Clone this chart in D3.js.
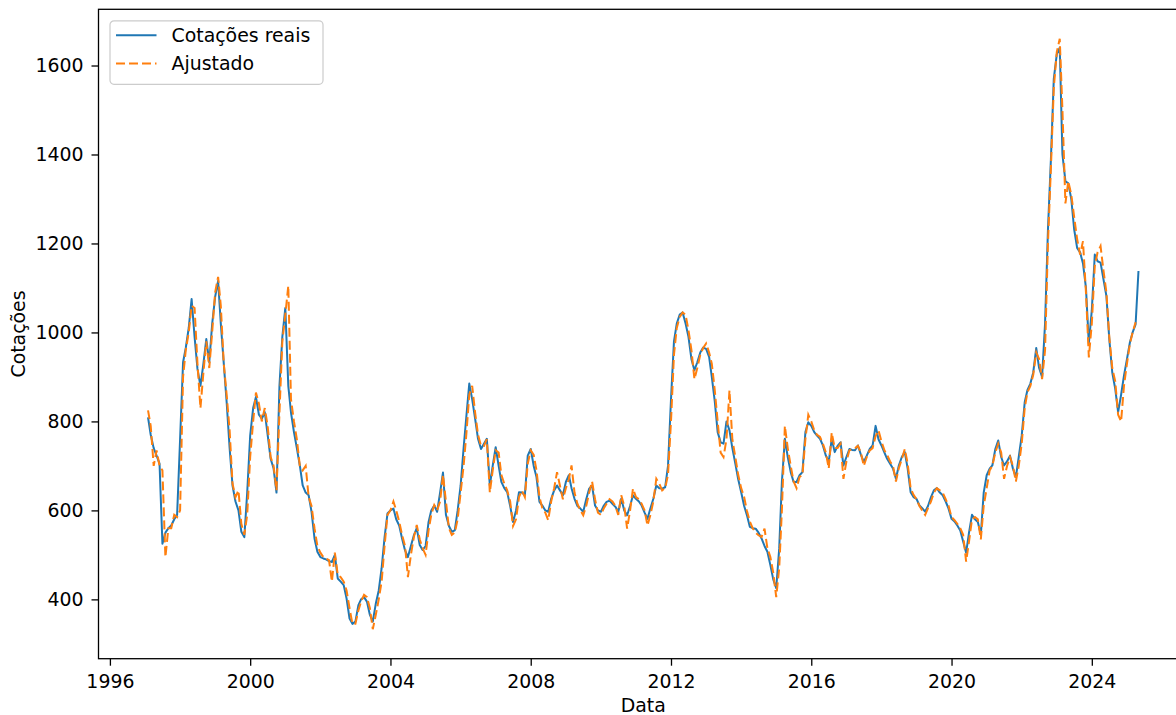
<!DOCTYPE html>
<html>
<head>
<meta charset="utf-8">
<script src="https://cdn.jsdelivr.net/npm/d3@7/dist/d3.min.js"></script>
<style>
  body { margin: 0; background: #fff; }
  svg { display: block; font-family: "DejaVu Sans", sans-serif; }
</style>
</head>
<body>
<svg id="chart" width="1176" height="715"></svg>
<script>
// monthly series, first month below, one value per month
var firstMonth = "1997-02";

var cotacoesReais = [
  809, 770, 740, 723, 705, 525, 550, 560, 566, 580, 590,
  760, 933, 965, 1010, 1075, 990, 918, 880, 930, 985, 933, 1019,
  1080, 1116, 1020, 930, 843, 740, 656, 620, 600, 552, 540, 640,
  768, 830, 855, 815, 806, 821, 770, 716, 694, 640, 880, 990,
  1055, 880, 820, 776, 740, 701, 656, 640, 634, 597, 537, 507,
  495, 492, 490, 486, 484, 500, 447, 440, 432, 402, 357, 345,
  350, 387, 400, 405, 395, 365, 350, 390, 420, 470, 540, 593,
  600, 604, 580, 566, 537, 510, 495, 520, 544, 560, 522, 511,
  520, 574, 600, 611, 597, 640, 685, 590, 565, 552, 555, 600,
  656, 740, 810, 885, 850, 806, 761, 738, 750, 761, 656, 700,
  742, 700, 664, 650, 641, 610, 574, 600, 641, 640, 634, 723,
  738, 700, 675, 619, 611, 600, 597, 626, 645, 656, 645, 634,
  664, 679, 650, 626, 610, 604, 597, 625, 649, 656, 611, 600,
  597, 611, 619, 622, 615, 608, 597, 626, 600, 589, 610, 634,
  626, 620, 611, 595, 581, 605, 626, 656, 650, 649, 652, 700,
  850, 980, 1020, 1040, 1045, 1020, 990, 940, 915, 933, 955, 966,
  963, 945, 900, 845, 776, 753, 750, 800, 780, 740, 705, 670,
  641, 610, 590, 563, 560, 559, 550, 537, 520, 507, 477, 445,
  425, 514, 664, 761, 720, 686, 664, 664, 679, 686, 776, 798,
  790, 776, 768, 761, 746, 723, 709, 761, 731, 745, 753, 701,
  720, 738, 736, 735, 746, 725, 709, 723, 738, 746, 790, 760,
  746, 730, 716, 705, 694, 671, 701, 720, 731, 694, 641, 630,
  626, 611, 605, 597, 610, 630, 645, 650, 640, 634, 620, 604,
  581, 575, 566, 555, 530, 505, 550, 590, 580, 574, 545, 640,
  679, 694, 701, 738, 757, 720, 701, 710, 723, 694, 675, 720,
  768, 843, 870, 885, 910, 965, 920, 900, 1020, 1230, 1390, 1570,
  1625, 1640, 1400, 1340, 1335, 1300, 1232, 1190, 1180, 1155, 1100, 975,
  1050, 1175, 1160, 1157, 1120, 1082, 985, 910, 873, 821, 860, 903,
  940, 978, 1000, 1018, 1138
];

var ajustado = [
  825, 790, 700, 735, 700, 690, 495, 560, 560, 590, 585,
  600, 900, 960, 1000, 1060, 1055, 930, 830, 910, 980, 920, 1000,
  1090, 1125, 1060, 930, 860, 780, 660, 630, 645, 570, 545, 590,
  720, 800, 865, 840, 800, 830, 790, 720, 700, 645, 820, 980,
  1040, 1105, 850, 800, 760, 700, 690, 700, 630, 610, 560, 520,
  505, 495, 492, 488, 440, 505, 455, 450, 440, 420, 380, 345,
  345, 375, 395, 410, 405, 380, 333, 365, 400, 440, 520, 590,
  600, 620, 600, 575, 545, 520, 450, 500, 540, 567, 535, 515,
  500, 555, 590, 612, 600, 620, 680, 620, 560, 545, 550, 580,
  640, 700, 770, 860, 880, 820, 770, 745, 745, 760, 640, 690,
  735, 730, 680, 660, 645, 620, 565, 580, 630, 645, 630, 705,
  735, 725, 690, 630, 605, 595, 578, 620, 650, 686, 655, 625,
  650, 670, 701, 640, 615, 600, 589, 610, 640, 665, 625, 595,
  590, 605, 615, 625, 620, 610, 590, 634, 610, 559, 600, 649,
  630, 625, 615, 600, 566, 590, 620, 671, 660, 645, 650, 680,
  800, 950, 1010, 1035, 1045, 1040, 1005, 960, 895, 920, 950, 965,
  975, 955, 930, 870, 800, 730, 720, 760, 870, 760, 720, 680,
  650, 630, 600, 575, 560, 550, 544, 540, 559, 515, 495, 460,
  405, 470, 600, 790, 740, 700, 665, 650, 675, 680, 760, 815,
  800, 780, 770, 765, 750, 730, 694, 775, 740, 740, 750, 671,
  710, 735, 738, 740, 745, 730, 700, 720, 735, 740, 767, 780,
  755, 735, 725, 710, 700, 665, 695, 715, 738, 705, 650, 635,
  625, 610, 600, 590, 605, 620, 640, 650, 645, 640, 625, 610,
  585, 578, 570, 560, 545, 485, 530, 580, 585, 580, 535, 610,
  650, 690, 700, 730, 750, 730, 671, 700, 720, 700, 665, 700,
  750, 830, 865, 880, 905, 955, 940, 895, 960, 1200, 1370, 1550,
  1630, 1660, 1500, 1290, 1340, 1310, 1260, 1210, 1175, 1205, 1090, 944,
  1020, 1150, 1180, 1194, 1140, 1090, 990, 920, 890, 815, 800, 880,
  930, 975, 1000, 1023
];

var seriesNames = ["Cotações reais", "Ajustado"];
var seriesColors = ["#1f77b4", "#ff7f0e"];
var yTickValues = [400, 600, 800, 1000, 1200, 1400, 1600];
var xTickYears = [1996, 2000, 2004, 2008, 2012, 2016, 2020, 2024];

var fontSize = 18.9;
var margin = {top: 9.3, right: -12, bottom: 56.3, left: 98.5};
var W = 1176, H = 715;
var width = W - margin.left - margin.right;
var height = H - margin.top - margin.bottom;

var start = d3.timeParse("%Y-%m")(firstMonth);
var months = cotacoesReais.map(function(d, i) { return d3.timeMonth.offset(start, i); });

var real = cotacoesReais.map(function(v, i) { return {date: months[i], value: v}; });
var fit = ajustado.map(function(v, i) { return {date: months[i], value: v}; });

// matplotlib style 5% padding on both axes
var xExt = d3.extent(months);
var xPad = (xExt[1] - xExt[0]) * 0.05;
var x = d3.scaleTime()
  .domain([new Date(+xExt[0] - xPad), new Date(+xExt[1] + xPad)])
  .range([0, width]);

var yExt = d3.extent(cotacoesReais.concat(ajustado));
var yPad = (yExt[1] - yExt[0]) * 0.05;
var y = d3.scaleLinear()
  .domain([yExt[0] - yPad, yExt[1] + yPad])
  .range([height, 0]);

var svg = d3.select("#chart");
var g = svg.append("g")
  .attr("transform", "translate(" + margin.left + "," + margin.top + ")");

var line = d3.line()
  .x(function(d) { return x(d.date); })
  .y(function(d) { return y(d.value); });

g.append("path")
  .datum(real)
  .attr("fill", "none")
  .attr("stroke", seriesColors[0])
  .attr("stroke-width", 2)
  .attr("stroke-linejoin", "round")
  .attr("d", line);

g.append("path")
  .datum(fit)
  .attr("fill", "none")
  .attr("stroke", seriesColors[1])
  .attr("stroke-width", 2)
  .attr("stroke-dasharray", "9,4")
  .attr("d", line);

// axes
var xAxis = d3.axisBottom(x)
  .tickValues(xTickYears.map(function(yr) { return new Date(yr, 0, 1); }))
  .tickFormat(d3.timeFormat("%Y"))
  .tickSize(7)
  .tickPadding(9);

var yAxis = d3.axisLeft(y)
  .tickValues(yTickValues)
  .tickFormat(d3.format("d"))
  .tickSize(7)
  .tickPadding(8);

var gx = g.append("g")
  .attr("transform", "translate(0," + height + ")")
  .call(xAxis);
var gy = g.append("g").call(yAxis);

[gx, gy].forEach(function(a) {
  a.select(".domain").remove();
  a.selectAll("line").attr("stroke", "#000").attr("stroke-width", 1.3);
  a.selectAll("text")
    .attr("fill", "#000")
    .style("font-family", "'DejaVu Sans', sans-serif")
    .style("font-size", fontSize + "px");
});

// spines
g.append("rect")
  .attr("width", width)
  .attr("height", height)
  .attr("fill", "none")
  .attr("stroke", "#000")
  .attr("stroke-width", 1.3);

// axis titles
g.append("text")
  .attr("x", width / 2)
  .attr("y", height + 53)
  .attr("text-anchor", "middle")
  .style("font-size", fontSize + "px")
  .text("Data");

g.append("text")
  .attr("transform", "translate(" + (-74) + "," + (height / 2) + ") rotate(-90)")
  .attr("text-anchor", "middle")
  .style("font-size", fontSize + "px")
  .text("Cotações");

// legend
var legend = g.append("g")
  .attr("transform", "translate(11.5,11.5)");

legend.append("rect")
  .attr("width", 213)
  .attr("height", 63.5)
  .attr("rx", 4)
  .attr("fill", "#fff")
  .attr("fill-opacity", 0.8)
  .attr("stroke", "#cccccc")
  .attr("stroke-width", 1.2);

var items = legend.selectAll("g.item")
  .data(seriesNames)
  .enter().append("g")
    .attr("class", "item")
    .attr("transform", function(d, i) { return "translate(0," + (14.5 + i * 28.3) + ")"; });

items.append("line")
  .attr("x1", 6)
  .attr("x2", 46.5)
  .attr("stroke", function(d, i) { return seriesColors[i]; })
  .attr("stroke-width", 2)
  .attr("stroke-dasharray", function(d, i) { return i ? "9,4" : null; });

items.append("text")
  .attr("x", 61.5)
  .attr("dy", "0.35em")
  .style("font-size", fontSize + "px")
  .text(function(d) { return d; });
</script>
</body>
</html>
